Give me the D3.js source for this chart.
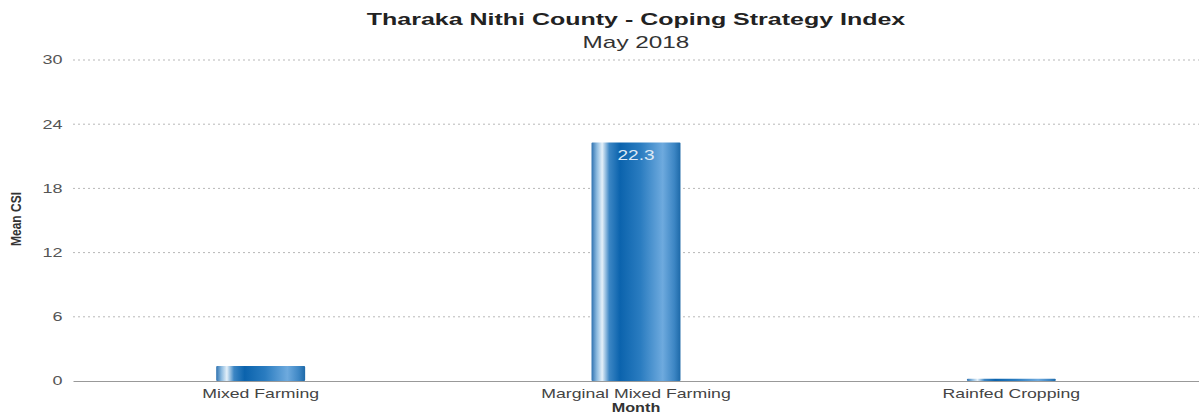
<!DOCTYPE html>
<html><head><meta charset="utf-8">
<script src="https://cdn.jsdelivr.net/npm/d3@7/dist/d3.min.js"></script>
<style>body{margin:0;background:#fff}svg{display:block}</style>
</head><body><svg id="c" width="1199" height="416"></svg>
<script>
const categories = ["Mixed Farming", "Marginal Mixed Farming", "Rainfed Cropping"];
const values = [1.4, 22.3, 0.2];
const valueLabels = ["", "22.3", ""];
const yTicks = [0, 6, 12, 18, 24, 30];

const svg = d3.select("#c");
const W = 1199, H = 416;
const m = {left: 73, right: 0, top: 60, bottom: 35};
const FONT = "Liberation Sans, Arial, sans-serif";
const x = d3.scaleBand().domain(categories).range([m.left, W - m.right]).paddingInner(0.763).paddingOuter(0.3815);
const y = d3.scaleLinear().domain([0, 30]).range([H - m.bottom, m.top]);

const defs = svg.append("defs");
const g = defs.append("linearGradient").attr("id", "barg").attr("x1", "0").attr("x2", "1").attr("y1", "0").attr("y2", "0");
[[0, "#2f72b0"], [0.06, "#8dbbe0"], [0.12, "#e4f0f9"], [0.2, "#3c86c4"], [0.32, "#0b63ad"], [0.55, "#2a7cc0"], [0.8, "#6eaade"], [0.93, "#3d86c4"], [1, "#1d69a8"]]
  .forEach(([o, c]) => g.append("stop").attr("offset", o).attr("stop-color", c));

// grid
svg.append("g").selectAll("line").data(yTicks.filter(d => d > 0)).join("line")
  .attr("x1", m.left).attr("x2", W - m.right).attr("y1", d => y(d)).attr("y2", d => y(d))
  .attr("stroke", "#b8b8b8").attr("stroke-width", 1).attr("stroke-dasharray", "2,3");

// y axis labels
const ya = svg.append("g").attr("transform", `translate(${m.left},0)`)
  .call(d3.axisLeft(y).tickValues(yTicks).tickSize(0).tickPadding(7));
ya.select(".domain").remove();
ya.selectAll("text").attr("font-family", FONT).attr("font-size", 12).attr("fill", "#555")
  .attr("transform", "scale(1.5,1)");

// bars
svg.append("g").selectAll("rect").data(categories).join("rect")
  .attr("x", d => x(d)).attr("width", x.bandwidth())
  .attr("y", (d, i) => y(values[i])).attr("height", (d, i) => y(0) - y(values[i]))
  .attr("fill", "url(#barg)").attr("rx", 1);

// value labels
svg.append("g").selectAll("text").data(categories).join("text")
  .attr("transform", (d, i) => `translate(${x(d) + x.bandwidth() / 2},${y(values[i]) + 18}) scale(1.36,1)`)
  .attr("text-anchor", "middle").attr("font-family", FONT)
  .attr("font-size", 14).attr("fill", "#dde9f5").text((d, i) => valueLabels[i]);

// x axis
const xa = svg.append("g").attr("transform", `translate(0,${y(0)})`)
  .call(d3.axisBottom(x).tickSize(0).tickPadding(8).tickSizeOuter(0));
xa.select(".domain").attr("stroke", "#999").attr("stroke-width", 1.2);
xa.selectAll("text").attr("font-family", FONT).attr("font-size", 13).attr("fill", "#444")
  .attr("transform", "scale(1.36,1)");

// titles
function txt(tx, ty, sx, s) {
  return svg.append("text").attr("transform", `translate(${tx},${ty}) scale(${sx},1)`).attr("text-anchor", "middle")
    .attr("font-family", FONT).text(s);
}
txt(636, 25, 1.47, "Tharaka Nithi County - Coping Strategy Index").attr("font-weight", "bold").attr("font-size", 17).attr("fill", "#222");
txt(636, 48, 1.52, "May 2018").attr("font-size", 16).attr("fill", "#333");
txt(636, 412, 1.35, "Month").attr("font-weight", "bold").attr("font-size", 12).attr("fill", "#333");
svg.append("text").attr("transform", "translate(21,219) rotate(-90) scale(0.8,1)").attr("text-anchor", "middle")
  .attr("font-family", FONT).attr("font-weight", "bold").attr("font-size", 15).attr("fill", "#333")
  .text("Mean CSI");
</script></body></html>
